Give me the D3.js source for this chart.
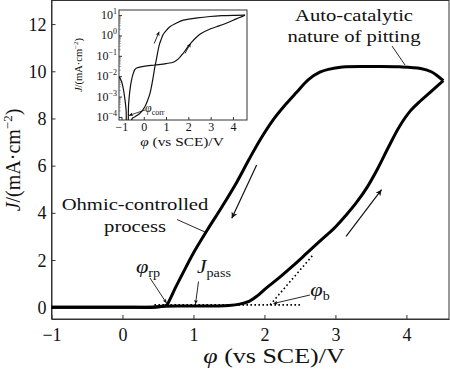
<!DOCTYPE html>
<html><head><meta charset="utf-8">
<script src="https://cdn.jsdelivr.net/npm/d3@7"></script>
<style>
body{margin:0;background:#fff}
svg{display:block}
text{font-family:"Liberation Serif","Times New Roman",serif;fill:#111}
</style>
</head><body>
<svg id="c" width="450" height="371"></svg>
<script>
// ---------- data ----------
const xTicks = [-1, 0, 1, 2, 3, 4];
const yTicks = [0, 2, 4, 6, 8, 10, 12];
const forwardPhi = [-1.0, 0.0, 0.45, 0.55, 1.0, 1.35, 1.5, 1.65, 1.79, 1.9, 2.02, 2.2, 2.4, 2.6, 2.8, 3.0, 3.15, 3.3, 3.45, 3.6, 3.75, 3.9, 4.05, 4.2, 4.35, 4.52];
const forwardJ   = [0.0, 0.0, 0.0, 0.04, 0.05, 0.05, 0.07, 0.13, 0.26, 0.48, 0.8, 1.23, 1.75, 2.3, 2.85, 3.4, 3.9, 4.45, 5.1, 5.9, 6.8, 7.65, 8.3, 8.75, 9.15, 9.6];
const reversePhi = [4.52, 4.44, 4.35, 4.2, 3.9, 3.5, 3.1, 2.9, 2.78, 2.62, 2.45, 2.3, 2.12, 1.94, 1.78, 1.61, 1.4, 1.19, 1.0, 0.86, 0.75, 0.66, 0.62, 0.55, 0.0, -1.0];
const reverseJ   = [9.6, 9.8, 9.98, 10.12, 10.19, 10.2, 10.18, 10.08, 9.96, 9.65, 9.1, 8.6, 7.93, 7.1, 6.25, 5.3, 4.25, 3.25, 2.3, 1.5, 0.85, 0.28, 0.08, 0.03, 0.0, 0.0];
const passLinePhi = [0.45, 2.5];
const passLineJ   = [0.1, 0.1];
const tangentPhi  = [2.08, 2.68];
const tangentJ    = [0.1, 2.2];
const arrowDownPhi = [1.89, 1.54], arrowDownJ = [6.03, 3.77];
const arrowUpPhi   = [3.15, 3.65], arrowUpJ   = [3.0, 4.98];

// inset (log10 of |J|)
const insetXTicks = [-1, 0, 1, 2, 3, 4];
const insetYTicks = [-4, -3, -2, -1, 0, 1];
const insetFwdPhi = [-1.11, -1.0, -0.92, -0.84, -0.79, -0.76, -0.73, -0.68, -0.62, -0.55, -0.47, -0.4, -0.32, 0.0, 0.5, 1.0, 1.35, 1.55, 1.75, 1.95, 2.15, 2.35, 2.55, 3.0, 3.27, 3.7, 4.01, 4.3, 4.54];
const insetFwdLog = [-2.02, -2.25, -2.6, -3.17, -3.7, -4.6, -4.6, -3.4, -2.68, -2.2, -1.86, -1.68, -1.6, -1.52, -1.45, -1.38, -1.3, -1.15, -0.9, -0.6, -0.33, -0.1, 0.08, 0.33, 0.43, 0.6, 0.75, 0.88, 1.0];
const insetRevPhi = [4.54, 4.0, 3.5, 2.97, 2.4, 1.77, 1.45, 1.17, 0.97, 0.87, 0.78, 0.7, 0.62, 0.58, 0.5, 0.4, 0.28, 0.15, 0.05, -0.17, -0.39, -0.5, -0.6, -0.65];
const insetRevLog = [1.0, 0.99, 0.97, 0.93, 0.86, 0.75, 0.6, 0.43, 0.2, 0.05, -0.2, -0.45, -0.85, -1.1, -1.53, -2.19, -2.84, -3.25, -3.5, -3.82, -3.99, -4.05, -4.3, -4.6];
const insetArrow1Phi = [0.47, 0.69], insetArrow1Log = [-0.39, 0.18];
const insetArrow2Phi = [1.85, 2.1],  insetArrow2Log = [-0.88, -0.39];

// ---------- setup ----------
const svg = d3.select("#c");
const SX = 1.18; // horizontal stretch of the original typesetting
const defs = svg.append("defs");
function marker(id, w, h){
  defs.append("marker").attr("id", id).attr("viewBox","0 0 10 10")
    .attr("refX",10).attr("refY",5).attr("markerUnits","userSpaceOnUse")
    .attr("markerWidth",w).attr("markerHeight",h).attr("orient","auto")
    .append("path").attr("d","M0,0 L10,5 L0,10 L2.5,5 z").attr("fill","#111");
}
marker("ah", 9, 6);
marker("ahs", 6, 4);

const x = d3.scaleLinear().domain([-1, 4.6]).range([51.5, 449]);
const y = d3.scaleLinear().domain([-0.5, 13]).range([319, 0.5]);

// frame
svg.append("rect").attr("x", x.range()[0]).attr("y", y.range()[1])
  .attr("width", x.range()[1]-x.range()[0]).attr("height", y.range()[0]-y.range()[1])
  .attr("fill","none").attr("stroke","#333").attr("stroke-width",1);

// axes
const xAxis = d3.axisBottom(x).tickValues(xTicks).tickSizeInner(-4).tickSizeOuter(0)
  .tickFormat(d => d < 0 ? "\u2212" + Math.abs(d) : d);
const gx = svg.append("g").attr("transform", `translate(0,${y.range()[0]})`).call(xAxis);
gx.select(".domain").attr("stroke","#333");
gx.selectAll(".tick line").attr("stroke","#333");
gx.selectAll(".tick text").attr("font-size",18).attr("dy",null).attr("y",22).attr("fill","#111")
  .attr("font-family",'"Liberation Serif",serif');

const yAxis = d3.axisLeft(y).tickValues(yTicks).tickSizeInner(-4).tickSizeOuter(0);
const gy = svg.append("g").attr("transform", `translate(${x.range()[0]},0)`).call(yAxis);
gy.select(".domain").attr("stroke","#333");
gy.selectAll(".tick line").attr("stroke","#333");
gy.selectAll(".tick text").attr("font-size",18).attr("x",-5).attr("dy","0.34em").attr("fill","#111")
  .attr("font-family",'"Liberation Serif",serif');

// axis titles
const xt = svg.append("text").attr("transform", `translate(274,363) scale(1.3,1)`)
  .attr("text-anchor","middle").attr("font-size",20);
xt.append("tspan").attr("font-style","italic").text("\u03C6");
xt.append("tspan").text(" (vs SCE)/V");

const yt = svg.append("text").attr("transform","translate(20,160) rotate(-90)")
  .attr("text-anchor","middle").attr("font-size",20);
yt.append("tspan").attr("font-style","italic").text("J");
yt.append("tspan").text("/(mA\u00B7cm");
yt.append("tspan").attr("font-size",13).attr("dy",-8).text("\u22122");
yt.append("tspan").attr("dy",8).text(")");

// curves
const line = d3.line().x(d => x(d[0])).y(d => y(d[1])).curve(d3.curveCatmullRom.alpha(0.5));
svg.append("path").datum(d3.zip(forwardPhi, forwardJ)).attr("d", line)
  .attr("fill","none").attr("stroke","#000").attr("stroke-width",3).attr("stroke-linejoin","round");
svg.append("path").datum(d3.zip(reversePhi, reverseJ)).attr("d", line)
  .attr("fill","none").attr("stroke","#000").attr("stroke-width",3).attr("stroke-linejoin","round");

const straight = d3.line().x(d => x(d[0])).y(d => y(d[1]));
svg.append("path").datum(d3.zip(passLinePhi, passLineJ)).attr("d", straight)
  .attr("fill","none").attr("stroke","#000").attr("stroke-width",1.6).attr("stroke-dasharray","1.6,2.4");
svg.append("path").datum(d3.zip(tangentPhi, tangentJ)).attr("d", straight)
  .attr("fill","none").attr("stroke","#000").attr("stroke-width",1.6).attr("stroke-dasharray","1.6,2.6");

// direction arrows
[[arrowDownPhi, arrowDownJ],[arrowUpPhi, arrowUpJ]].forEach(([p,j]) => {
  svg.append("path").datum(d3.zip(p,j)).attr("d", straight)
    .attr("stroke","#111").attr("stroke-width",1.2).attr("fill","none").attr("marker-end","url(#ah)");
});

// annotations (positions in pixels for labels)
function label(tx, ty, parts, size){
  const t = svg.append("text").attr("transform", `translate(${tx},${ty}) scale(${SX},1)`)
    .attr("text-anchor","middle").attr("font-size", size);
  parts.forEach(p => {
    const s = t.append("tspan").text(p.t);
    if (p.i) s.attr("font-style","italic");
    if (p.dy) s.attr("dy", p.dy);
    if (p.fs) s.attr("font-size", p.fs);
  });
  return t;
}
label(354, 20.5, [{t:"Auto-catalytic"}], 17.5);
label(354, 42, [{t:"nature of pitting"}], 17.5);
label(135, 210, [{t:"Ohmic-controlled"}], 17.5);
label(135, 232, [{t:"process"}], 17.5);
label(148, 273, [{t:"\u03C6", i:1},{t:"rp", fs:12, dy:4}], 19);
label(214, 273, [{t:"J", i:1},{t:"pass", fs:12, dy:4}], 18);
label(320, 296, [{t:"\u03C6", i:1},{t:"b", fs:12, dy:4}], 19);

function lead(x1,y1,x2,y2,arrow){
  const l = svg.append("line").attr("x1",x1).attr("y1",y1).attr("x2",x2).attr("y2",y2)
    .attr("stroke","#111").attr("stroke-width",0.9);
  if (arrow) l.attr("marker-end","url(#ahs)");
}
lead(392, 46, 405, 65, false);
lead(177, 219.5, 205, 232, false);
lead(150, 278, 166.5, 303, true);
lead(198.5, 281.5, 195.5, 304, true);
lead(310, 295, 273.5, 303.5, true);

// ---------- inset ----------
const ix = d3.scaleLinear().domain([-1.11, 4.63]).range([119, 247]);
const iy = d3.scaleLinear().domain([-4.15, 1.25]).range([120, 10]);
const inset = svg.append("g");
inset.append("rect").attr("x",119).attr("y",10).attr("width",128).attr("height",110)
  .attr("fill","#fff").attr("stroke","#333").attr("stroke-width",1);
defs.append("clipPath").attr("id","iclip").append("rect")
  .attr("x",119).attr("y",10).attr("width",128).attr("height",110);

const ixAxis = d3.axisBottom(ix).tickValues(insetXTicks).tickSizeInner(-3).tickSizeOuter(0)
  .tickFormat(d => d < 0 ? "\u2212" + Math.abs(d) : d);
const gix = inset.append("g").attr("transform","translate(0,120)").call(ixAxis);
gix.select(".domain").remove();
gix.selectAll(".tick line").attr("stroke","#333");
gix.selectAll(".tick text").attr("font-size",12).attr("dy",null).attr("y",11).attr("fill","#111")
  .attr("font-family",'"Liberation Serif",serif');

const iyAxis = d3.axisLeft(iy).tickValues(insetYTicks).tickSizeInner(-3).tickSizeOuter(0).tickFormat("");
const giy = inset.append("g").attr("transform","translate(119,0)").call(iyAxis);
giy.select(".domain").remove();
giy.selectAll(".tick line").attr("stroke","#333");
// minor ticks
const minor = [];
insetYTicks.forEach(k => { for (let m=2;m<10;m++){ const v = k + Math.log10(m); if (v < 1.25) minor.push(v);} });
inset.selectAll("line.minor").data(minor).enter().append("line")
  .attr("x1",119).attr("x2",120.8).attr("y1",d=>iy(d)).attr("y2",d=>iy(d))
  .attr("stroke","#555").attr("stroke-width",0.6);
insetYTicks.forEach(k => {
  const t = inset.append("text").attr("x",117).attr("y",iy(k)+4).attr("text-anchor","end").attr("font-size",12);
  t.append("tspan").text("10");
  t.append("tspan").attr("font-size",8).attr("dy",-5).text(k < 0 ? "\u2212" + Math.abs(k) : k);
});

const iline = d3.line().x(d => ix(d[0])).y(d => iy(d[1])).curve(d3.curveCatmullRom.alpha(0.5));
const ic = inset.append("g").attr("clip-path","url(#iclip)");
ic.append("path").datum(d3.zip(insetFwdPhi, insetFwdLog)).attr("d", iline)
  .attr("fill","none").attr("stroke","#111").attr("stroke-width",1.2);
ic.append("path").datum(d3.zip(insetRevPhi, insetRevLog)).attr("d", iline)
  .attr("fill","none").attr("stroke","#111").attr("stroke-width",1.2);
const istraight = d3.line().x(d => ix(d[0])).y(d => iy(d[1]));
[[insetArrow1Phi, insetArrow1Log],[insetArrow2Phi, insetArrow2Log]].forEach(([p,l]) => {
  inset.append("path").datum(d3.zip(p,l)).attr("d", istraight)
    .attr("stroke","#111").attr("stroke-width",0.9).attr("fill","none").attr("marker-end","url(#ahs)");
});

// inset titles
const ixt = inset.append("text").attr("transform",`translate(182,146) scale(${SX},1)`)
  .attr("text-anchor","middle").attr("font-size",13);
ixt.append("tspan").attr("font-style","italic").text("\u03C6");
ixt.append("tspan").text(" (vs SCE)/V");
const iyt = inset.append("text").attr("transform","translate(82,65) rotate(-90)")
  .attr("text-anchor","middle").attr("font-size",10.5);
iyt.append("tspan").attr("font-style","italic").text("J");
iyt.append("tspan").text("/(mA\u00B7cm");
iyt.append("tspan").attr("font-size",7).attr("dy",-4).text("\u22122");
iyt.append("tspan").attr("dy",4).text(")");

const ct = inset.append("text").attr("x",145).attr("y",112).attr("font-size",12);
ct.append("tspan").attr("font-style","italic").text("\u03C6");
ct.append("tspan").attr("font-size",8).attr("dy",3).text("corr");
inset.append("line").attr("x1",145).attr("y1",110).attr("x2",129).attr("y2",115.5)
  .attr("stroke","#111").attr("stroke-width",0.8).attr("marker-end","url(#ahs)");
</script>
</body></html>
